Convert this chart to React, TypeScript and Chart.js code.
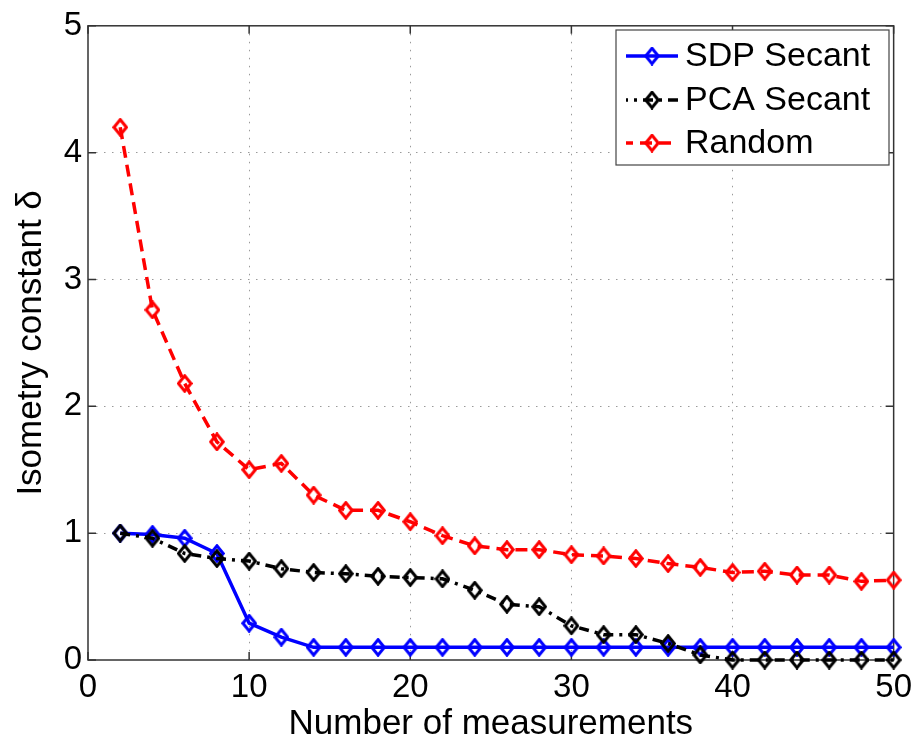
import React, { useEffect, useRef } from "react";
import { Chart, registerables } from "chart.js";

Chart.register(...registerables);

const measurements = [2, 4, 6, 8, 10, 12, 14, 16, 18, 20, 22, 24, 26, 28, 30, 32, 34, 36, 38, 40, 42, 44, 46, 48, 50];
const sdpSecant = [1.0, 0.99, 0.96, 0.84, 0.29, 0.18, 0.1, 0.1, 0.1, 0.1, 0.1, 0.1, 0.1, 0.1, 0.1, 0.1, 0.1, 0.1, 0.1, 0.1, 0.1, 0.1, 0.1, 0.1, 0.1];
const pcaSecant = [1.0, 0.96, 0.84, 0.8, 0.78, 0.72, 0.69, 0.68, 0.66, 0.65, 0.64, 0.55, 0.44, 0.42, 0.27, 0.2, 0.2, 0.13, 0.04, 0.0, 0.0, 0.0, 0.0, 0.0, 0.0];
const randomProj = [4.2, 2.76, 2.18, 1.72, 1.5, 1.55, 1.3, 1.18, 1.18, 1.09, 0.98, 0.9, 0.87, 0.87, 0.83, 0.82, 0.8, 0.76, 0.73, 0.69, 0.7, 0.67, 0.67, 0.62, 0.63];
const seriesNames = ["SDP Secant", "PCA Secant", "Random"];
const xTitle = "Number of measurements";
const yTitle = "Isometry constant δ";

const FONT = "'Liberation Sans', Arial, Helvetica, sans-serif";
const colors = ["#0000ff", "#000000", "#ff0000"];
const dashes = [[], [10, 6, 3, 6], [12, 7]];

function diamond(color: string): HTMLCanvasElement {
  const c = document.createElement("canvas");
  const w = 16, h = 19;
  c.width = w;
  c.height = h;
  const g = c.getContext("2d")!;
  g.strokeStyle = color;
  g.lineWidth = 3;
  g.lineJoin = "miter";
  g.beginPath();
  g.moveTo(w / 2, 1.8);
  g.lineTo(w - 1.8, h / 2);
  g.lineTo(w / 2, h - 1.8);
  g.lineTo(1.8, h / 2);
  g.closePath();
  g.stroke();
  return c;
}

export default function App() {
  const ref = useRef<HTMLCanvasElement | null>(null);
  useEffect(() => {
    if (!ref.current) return;
    const markers = colors.map(diamond);

    const boxPlugin = {
      id: "matlabBox",
      beforeDatasetsDraw(chart: any) {
        const { ctx, chartArea } = chart;
        const { left, right, top, bottom } = chartArea;
        ctx.save();
        ctx.strokeStyle = "#333";
        ctx.lineWidth = 1.5;
        ctx.setLineDash([]);
        ctx.strokeRect(left, top, right - left, bottom - top);
        const xs = chart.scales.x;
        const ys = chart.scales.y;
        ctx.beginPath();
        for (const t of xs.ticks) {
          const px = xs.getPixelForValue(t.value);
          ctx.moveTo(px, bottom);
          ctx.lineTo(px, bottom - 8);
          ctx.moveTo(px, top);
          ctx.lineTo(px, top + 8);
        }
        for (const t of ys.ticks) {
          const py = ys.getPixelForValue(t.value);
          ctx.moveTo(left, py);
          ctx.lineTo(left + 8, py);
          ctx.moveTo(right, py);
          ctx.lineTo(right - 8, py);
        }
        ctx.stroke();
        ctx.restore();
      },
      afterDatasetsDraw(chart: any) {
        const { ctx } = chart;
        ctx.save();
        const bx = 616, by = 30, bw = 273, bh = 135;
        ctx.fillStyle = "#fff";
        ctx.fillRect(bx, by, bw, bh);
        ctx.strokeStyle = "#444";
        ctx.lineWidth = 1.2;
        ctx.strokeRect(bx, by, bw, bh);
        const rows = [56, 100, 143];
        ctx.font = `34px ${FONT}`;
        ctx.textBaseline = "middle";
        ctx.textAlign = "left";
        seriesNames.forEach((name, i) => {
          const y = rows[i];
          ctx.strokeStyle = colors[i];
          ctx.lineWidth = 3.5;
          ctx.setLineDash(dashes[i]);
          ctx.lineDashOffset = i === 1 ? 8 : 5;
          ctx.beginPath();
          ctx.moveTo(626, y);
          ctx.lineTo(678, y);
          ctx.stroke();
          ctx.setLineDash([]);
          const m = markers[i];
          ctx.drawImage(m, 652 - m.width / 2, y - m.height / 2);
          ctx.fillStyle = "#000";
          ctx.fillText(name, 685, y + 1);
        });
        ctx.restore();
      },
    };

    const mk = (i: number, values: number[]) => ({
      label: seriesNames[i],
      data: measurements.map((x, k) => ({ x, y: values[k] })),
      borderColor: colors[i],
      backgroundColor: colors[i],
      borderWidth: 3.5,
      borderDash: dashes[i],
      pointStyle: markers[i],
      pointRadius: 8,
      pointHoverRadius: 8,
      tension: 0,
      clip: false as any,
      order: 3 - i,
    });

    const chart = new Chart(ref.current, {
      type: "line",
      data: {
        datasets: [mk(2, randomProj), mk(1, pcaSecant), mk(0, sdpSecant)],
      },
      options: {
        animation: false,
        responsive: false,
        devicePixelRatio: 1,
        events: [],
        layout: { padding: { left: 0, right: 22, top: 21, bottom: 0 } },
        plugins: { legend: { display: false }, tooltip: { enabled: false } },
        scales: {
          x: {
            type: "linear",
            min: 0,
            max: 50,
            ticks: { stepSize: 10, color: "#000", font: { family: FONT, size: 33 }, padding: 8, maxRotation: 0 },
            grid: {
              drawTicks: false,
              lineWidth: 1,
              color: (c: any) => (c.tick && (c.tick.value === 0 || c.tick.value === 50) ? "rgba(0,0,0,0)" : "#9a9a9a"),
            },
            border: { display: false, dash: [1.5, 6.5] },
            title: { display: true, text: xTitle, color: "#000", font: { family: FONT, size: 35, lineHeight: 1 }, padding: { top: 0, bottom: -4 } },
            afterFit: (s: any) => { s.height = 78; },
          },
          y: {
            type: "linear",
            min: 0,
            max: 5,
            ticks: { stepSize: 1, color: "#000", font: { family: FONT, size: 33 }, padding: 6 },
            grid: {
              drawTicks: false,
              lineWidth: 1,
              color: (c: any) => (c.tick && (c.tick.value === 0 || c.tick.value === 5) ? "rgba(0,0,0,0)" : "#9a9a9a"),
            },
            border: { display: false, dash: [1.5, 6.5] },
            title: { display: true, text: yTitle, color: "#000", font: { family: FONT, size: 35, lineHeight: 1 }, padding: { top: 14, bottom: 0 } },
            afterFit: (s: any) => { s.width = 88; },
          },
        },
      },
      plugins: [boxPlugin],
    } as any);
    return () => chart.destroy();
  }, []);

  return (
    <div style={{ position: "fixed", left: 0, top: 0, width: 920, height: 738, background: "#fff" }}>
      <canvas ref={ref} width={920} height={738} style={{ width: 920, height: 738 }} />
    </div>
  );
}
